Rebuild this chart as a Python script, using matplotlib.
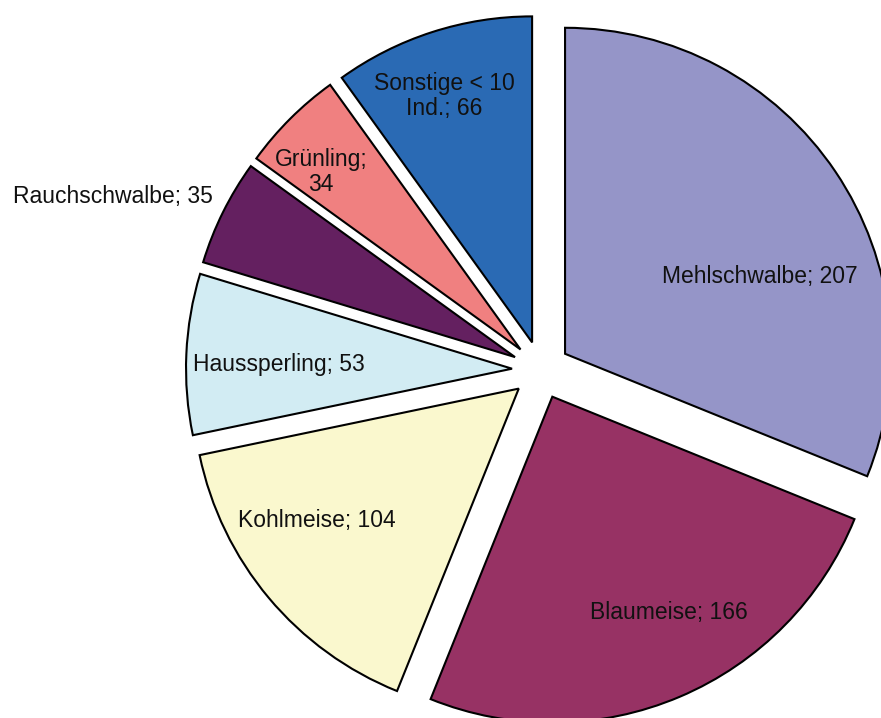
import matplotlib
matplotlib.use("Agg")
import matplotlib.pyplot as plt

# data
species = ['Mehlschwalbe', 'Blaumeise', 'Kohlmeise', 'Haussperling',
           'Rauchschwalbe', 'Grünling', 'Sonstige < 10 Ind.']
counts = [207, 166, 104, 53, 35, 34, 66]
label_texts = ['Mehlschwalbe; 207', 'Blaumeise; 166', 'Kohlmeise; 104',
               'Haussperling; 53', 'Rauchschwalbe; 35', 'Grünling;\n34',
               'Sonstige < 10\nInd.; 66']
colors = ['#9595C8', '#973264', '#FAF8CE', '#D2ECF3',
          '#642060', '#F08080', '#2A6AB4']

# label anchors in pixel coords (x, y from top)
label_pos = [(760, 277), (669, 613), (317, 521), (279, 364),
             (113, 196), (321, 172), (444, 96)]

W, H = 881, 718
fig = plt.figure(figsize=(W / 100, H / 100), dpi=100)
ax = fig.add_axes([0, 0, 1, 1])

r = 326
wedges, _ = ax.pie(counts, colors=colors, startangle=90, counterclock=False,
                   center=(541, H - 370), radius=r, explode=[29] * len(counts),
                   frame=True,
                   wedgeprops=dict(edgecolor='black', linewidth=1.5))

for txt, (x, y) in zip(label_texts, label_pos):
    ax.text(x, H - y, txt, ha='center', va='center', fontsize=16.5,
            family=['Liberation Sans', 'DejaVu Sans'], color='#111111',
            linespacing=1.15)

ax.set_xlim(0, W)
ax.set_ylim(0, H)
ax.set_aspect('equal')
ax.axis('off')

fig.savefig('out.png', dpi=100)
